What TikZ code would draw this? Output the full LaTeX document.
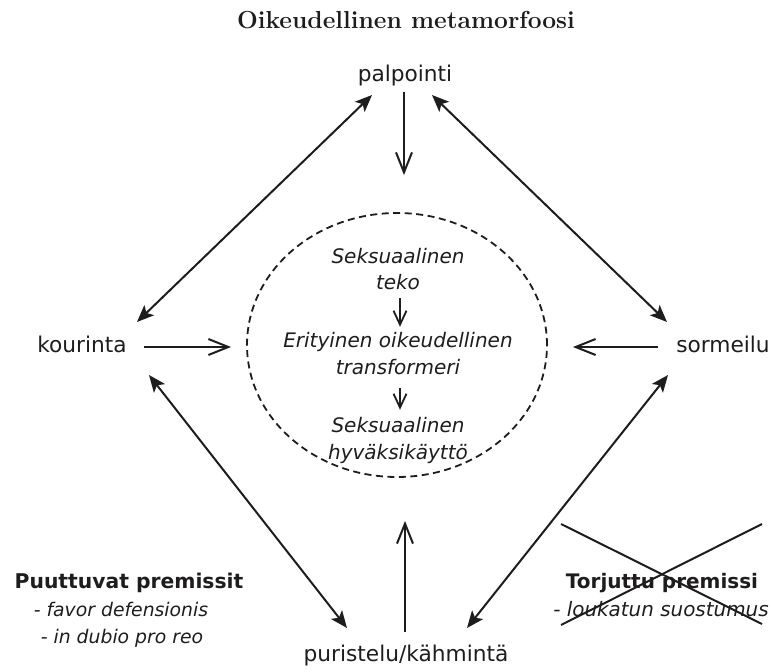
\documentclass[tikz,border=0pt]{standalone}
\usepackage{fontspec}
\newfontfamily\dv{DejaVu Sans}[ItalicFont={DejaVu Sans Oblique},BoldFont={DejaVu Sans Bold}]
\usetikzlibrary{arrows.meta,shapes.geometric}
\definecolor{ink}{HTML}{1E1C1D}

\begin{document}
\begin{tikzpicture}[x=1pt,y=-1pt,
  every node/.style={text=ink,inner sep=0pt},
  lbl/.style={font=\dv\fontsize{21.7}{26}\selectfont,anchor=base},
  step in/.style={font=\dv\itshape\fontsize{20}{24}\selectfont,anchor=base,text height=15pt,text depth=5pt},
  premhead/.style={font=\dv\bfseries\fontsize{20.3}{24}\selectfont,anchor=base},
  premline/.style={font=\dv\itshape\fontsize{18.8}{24}\selectfont,anchor=base},
  flow/.style={draw=ink,line width=2pt,-{Straight Barb[length=20pt,width=16pt]}},
  smallflow/.style={draw=ink,line width=1.8pt,-{Straight Barb[length=14pt,width=13pt]}},
  link/.style={draw=ink,line width=2pt,{Stealth[length=17pt,width=14pt,inset=4pt]}-{Stealth[length=17pt,width=14pt,inset=4pt]}}
]
\useasboundingbox (0,0) rectangle (772,672);

% title
\node[font=\bfseries\fontsize{24.6}{29}\selectfont,anchor=base] (title) at (406,28) {Oikeudellinen metamorfoosi};

% the four acts around the transformer
\node[lbl] (pal) at (405,81) {palpointi};
\node[lbl] (kou) at (82,352) {kourinta};
\node[lbl] (sor) at (723,352) {sormeilu};
\node[lbl] (pur) at (406,661) {puristelu/kähmintä};

% dashed transformer
\node[draw=ink,dash pattern=on 7pt off 4.5pt,line width=1.8pt,ellipse,minimum width=300pt,minimum height=264pt] (circ) at (397,345) {};

\node[step in] (s1) at (398,263) {Seksuaalinen};
\node[step in] (s2) at (398,289) {teko};
\node[step in] (t1) at (398,347) {Erityinen oikeudellinen};
\node[step in] (t2) at (398,374) {transformeri};
\node[step in] (h1) at (398,432) {Seksuaalinen};
\node[step in] (h2) at (398,459) {hyväksikäyttö};

\draw[smallflow,shorten <=4pt,shorten >=5pt] ([xshift=2pt]s2.south) -- ([xshift=2pt]t1.north);
\draw[smallflow,shorten <=9pt,shorten >=7pt] ([xshift=2pt]t2.south) -- ([xshift=2pt]h1.north);

% arrows into the transformer
\draw[flow] ([shift={(-1,11)}]pal.base) -- ([shift={(7,-37)}]circ.north);
\draw[flow] ([shift={(62,-5)}]kou.base) -- ([shift={(-15,2)}]circ.west);
\draw[flow] ([shift={(-65,-5)}]sor.base) -- ([shift={(25,2)}]circ.east);
\draw[flow] ([shift={(-1,-29)}]pur.base) -- ([shift={(8,43)}]circ.south);

% two-way links between the acts
\draw[link] ([shift={(-33,14)}]pal.base) -- ([shift={(55,-30)}]kou.base);
\draw[link] ([shift={(27,14)}]pal.base) -- ([shift={(-56,-30)}]sor.base);
\draw[link] ([shift={(67,23)}]kou.base) -- ([shift={(-59,-33)}]pur.base);
\draw[link] ([shift={(-55,23)}]sor.base) -- ([shift={(61,-33)}]pur.base);

% missing premises
\node[premhead] (mp) at (129,588) {Puuttuvat premissit};
\node[premline] (mp1) at (121,616) {- favor defensionis};
\node[premline] (mp2) at (122,643) {- in dubio pro reo};

% rejected premise, crossed out
\node[premhead,font=\dv\bfseries\fontsize{20}{24}\selectfont] (rp) at (662,588) {Torjuttu premissi};
\node[premline,font=\dv\itshape\fontsize{19.9}{24}\selectfont] (rp1) at (661,616) {- loukatun suostumus};
\draw[ink,line width=2pt] (561,524) -- (762,624);
\draw[ink,line width=2pt] (561,625) -- (762,524);
\end{tikzpicture}
\end{document}
